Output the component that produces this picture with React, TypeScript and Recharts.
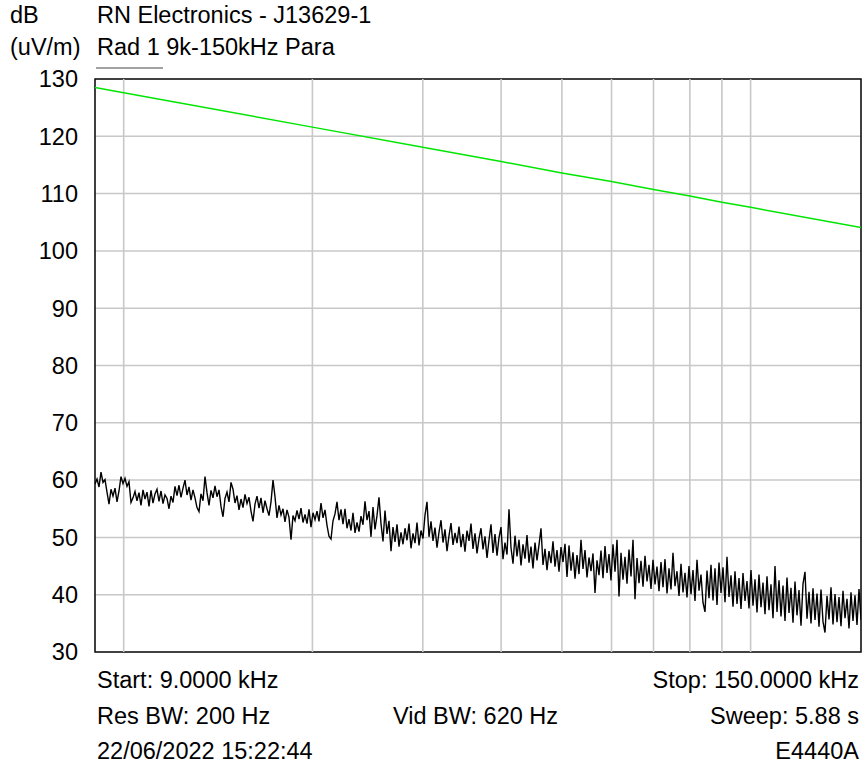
import React from 'react';
import { LineChart, Line, XAxis, YAxis, CartesianGrid, ReferenceArea, ReferenceLine } from 'recharts';

const FONT = '"Liberation Sans", Arial, sans-serif';

// frequency grid lines (Hz) and level ticks (dB uV/m)
const FREQ_TICKS = [10000, 20000, 30000, 40000, 50000, 60000, 70000, 80000, 90000, 100000];
const DB_TICKS = [30, 40, 50, 60, 70, 80, 90, 100, 110, 120, 130];

// limit line (green)
const LIMIT_FREQ = [9000, 10000, 20000, 30000, 40000, 50000, 60000, 70000, 80000, 90000, 100000, 150000];
const LIMIT_DB = [128.5, 127.6, 121.6, 118.1, 115.6, 113.6, 112.1, 110.7, 109.6, 108.5, 107.6, 104.1];

// measured trace, sweep points spread from start to stop on the log axis
const SWEEP_START = 9000;
const SWEEP_STOP = 150000;
const TRACE_DB = [
  59.3, 60.2, 58.8, 61.4, 59.6, 60.1, 57.9, 55.8, 58.4, 57.2,
  58.6, 56.2, 58.1, 60.6, 59.4, 60.3, 58.9, 59.7, 56.1, 56.9,
  58.0, 56.4, 57.8, 55.6, 58.3, 56.7, 57.9, 55.4, 58.2, 56.0,
  57.6, 58.4, 56.3, 58.1, 55.9, 57.4, 56.8, 55.0, 57.2, 56.1,
  58.9, 57.3, 59.1, 57.0, 58.6, 60.0, 57.4, 58.8, 56.5, 58.3,
  56.9, 55.2, 54.5, 57.6, 56.4, 60.6, 57.8, 55.6, 58.2, 56.9,
  59.0, 57.1, 58.3, 55.4, 53.6, 56.8, 57.9, 56.2, 59.6, 58.4,
  56.0, 57.3, 54.8, 56.7, 55.2, 57.5, 55.9, 57.0, 54.6, 52.8,
  55.8, 57.2, 55.1, 56.9, 54.3, 56.4, 55.0, 53.8, 56.2, 60.0,
  57.1, 53.4, 55.6, 53.9, 55.0, 52.7, 54.8, 53.5, 49.6, 53.8,
  52.9, 54.7, 53.2, 55.1, 52.6, 54.0, 52.4, 54.9, 51.8, 54.3,
  53.1, 54.6, 52.8, 56.0, 53.4, 54.8, 52.1, 50.2, 49.7, 52.9,
  54.1, 56.2, 53.0, 54.9, 52.3, 55.0, 51.6, 53.2, 51.2, 54.3,
  50.8, 52.6, 51.0, 53.7, 52.2, 56.3, 53.0, 54.6, 50.1, 55.3,
  51.4, 53.8, 57.0, 52.4, 49.3, 54.7, 50.6, 52.9, 47.6, 51.8,
  49.2, 52.3, 48.4, 50.9, 48.8, 51.6, 49.5, 52.4, 48.1, 50.7,
  49.0, 52.6, 48.6, 51.2, 49.8, 53.9, 56.2, 50.1, 52.8, 49.4,
  51.7, 48.2, 50.9, 53.0, 49.1, 51.4, 47.6, 50.3, 52.5, 48.7,
  50.8, 49.0, 51.9, 48.3, 50.6, 47.5, 51.2, 49.4, 52.4, 48.0,
  50.7, 47.2, 49.8, 51.6, 47.9, 50.2, 46.4, 49.5, 52.3, 47.3,
  50.6, 46.8, 49.9, 51.8, 46.2, 49.1, 47.0, 54.9, 48.2, 45.4,
  50.3, 46.7, 49.6, 45.1, 48.8, 46.3, 50.4, 45.6, 48.4, 44.6,
  49.1, 46.0, 48.7, 51.6, 45.2, 48.0, 44.3, 47.6, 45.5, 49.3,
  44.9, 47.8, 44.0, 48.3, 45.7, 48.9, 43.1, 48.6, 44.2, 47.4,
  42.8, 46.9, 43.6, 49.6, 44.5, 47.8, 43.0, 46.5, 44.1, 47.2,
  40.3, 46.0, 43.4, 47.7, 42.9, 48.5, 43.8, 47.1, 42.5, 48.8,
  44.0, 49.6, 39.7, 47.3, 42.6, 46.6, 41.9, 47.9, 43.2, 49.6,
  39.2, 46.4, 42.0, 45.9, 41.4, 46.8, 42.3, 45.2, 41.0, 46.1,
  41.8, 44.9, 40.6, 45.7, 41.3, 46.2, 40.2, 44.6, 40.9, 47.3,
  41.5, 44.1, 39.8, 45.4, 40.4, 43.8, 39.5, 45.0, 40.1, 44.3,
  38.9, 46.1, 40.7, 43.5, 38.6, 37.0, 44.2, 39.4, 45.2, 39.0,
  44.6, 38.2, 45.6, 40.3, 44.8, 38.7, 46.6, 39.6, 43.4, 37.9,
  44.1, 38.4, 42.9, 37.5, 43.8, 38.9, 42.4, 37.6, 44.3, 38.1,
  42.7, 36.9, 43.5, 37.8, 42.1, 36.6, 43.2, 37.3, 41.8, 35.9,
  45.0, 37.0, 42.5, 36.2, 41.6, 35.4, 43.0, 36.8, 41.2, 35.1,
  42.3, 36.4, 40.8, 34.6, 41.9, 44.0, 35.8, 40.5, 35.0, 41.1,
  35.6, 40.2, 34.4, 40.9, 35.3, 33.4, 39.8, 35.7, 41.3, 34.8,
  40.1, 35.2, 39.6, 34.5, 40.7, 35.9, 39.3, 34.1, 40.4, 35.4,
  39.9, 34.7, 41.0, 35.6,
];

const traceData = TRACE_DB.map((v, i) => ({
  f: SWEEP_START * Math.pow(SWEEP_STOP / SWEEP_START, i / (TRACE_DB.length - 1)),
  v,
}));
const limitData = LIMIT_FREQ.map((f, i) => ({ f, v: LIMIT_DB[i] }));

export default function App() {
  const txt = { fontFamily: FONT, fontSize: 23.5, fill: '#000' };
  return (
    <div style={{ position: 'absolute', left: 0, top: 0, width: 864, height: 764, background: '#fff' }}>
      <LineChart width={864} height={764} margin={{ top: 79, right: 3, bottom: 112, left: 35 }}>
        <CartesianGrid stroke="#c8c8c8" strokeWidth={1.5} vertical={false} />
        <XAxis
          dataKey="f"
          type="number"
          scale="log"
          domain={[SWEEP_START, SWEEP_STOP]}
          ticks={FREQ_TICKS}
          tick={false}
          axisLine={false}
          tickLine={false}
          height={0}
          allowDataOverflow
        />
        <YAxis
          type="number"
          domain={[30, 130]}
          ticks={DB_TICKS}
          width={60}
          tickSize={0}
          tickMargin={17}
          axisLine={false}
          tickLine={false}
          tick={{ fill: '#000', fontSize: 23.5, fontFamily: FONT }}
        />
        {FREQ_TICKS.map((f) => (
          <ReferenceLine key={f} x={f} stroke="#c8c8c8" strokeWidth={1.6} />
        ))}
        <Line data={limitData} dataKey="v" stroke="#00e600" strokeWidth={1.5} dot={false} isAnimationActive={false} />
        <Line data={traceData} dataKey="v" stroke="#000" strokeWidth={1.4} dot={false} isAnimationActive={false} />
        <ReferenceArea x1={SWEEP_START} x2={SWEEP_STOP} y1={30} y2={130} fill="none" stroke="#111" strokeWidth={1.6} ifOverflow="visible" />
      </LineChart>
      <svg width={864} height={764} style={{ position: 'absolute', left: 0, top: 0, pointerEvents: 'none' }}>
        <text x={10} y={23} {...txt}>dB</text>
        <text x={10} y={55} {...txt}>(uV/m)</text>
        <text x={97} y={23} {...txt}>RN Electronics - J13629-1</text>
        <text x={97} y={55} {...txt}>Rad 1 9k-150kHz Para</text>
        <line x1={96} x2={163} y1={68} y2={68} stroke="#444" strokeWidth={1} />
        <text x={97} y={688} {...txt}>Start: 9.0000 kHz</text>
        <text x={859} y={688} textAnchor="end" {...txt}>Stop: 150.0000 kHz</text>
        <text x={97} y={724} {...txt}>Res BW: 200 Hz</text>
        <text x={393} y={724} {...txt}>Vid BW: 620 Hz</text>
        <text x={859} y={724} textAnchor="end" {...txt}>Sweep: 5.88 s</text>
        <text x={97} y={759} {...txt}>22/06/2022 15:22:44</text>
        <text x={859} y={759} textAnchor="end" {...txt}>E4440A</text>
      </svg>
    </div>
  );
}
